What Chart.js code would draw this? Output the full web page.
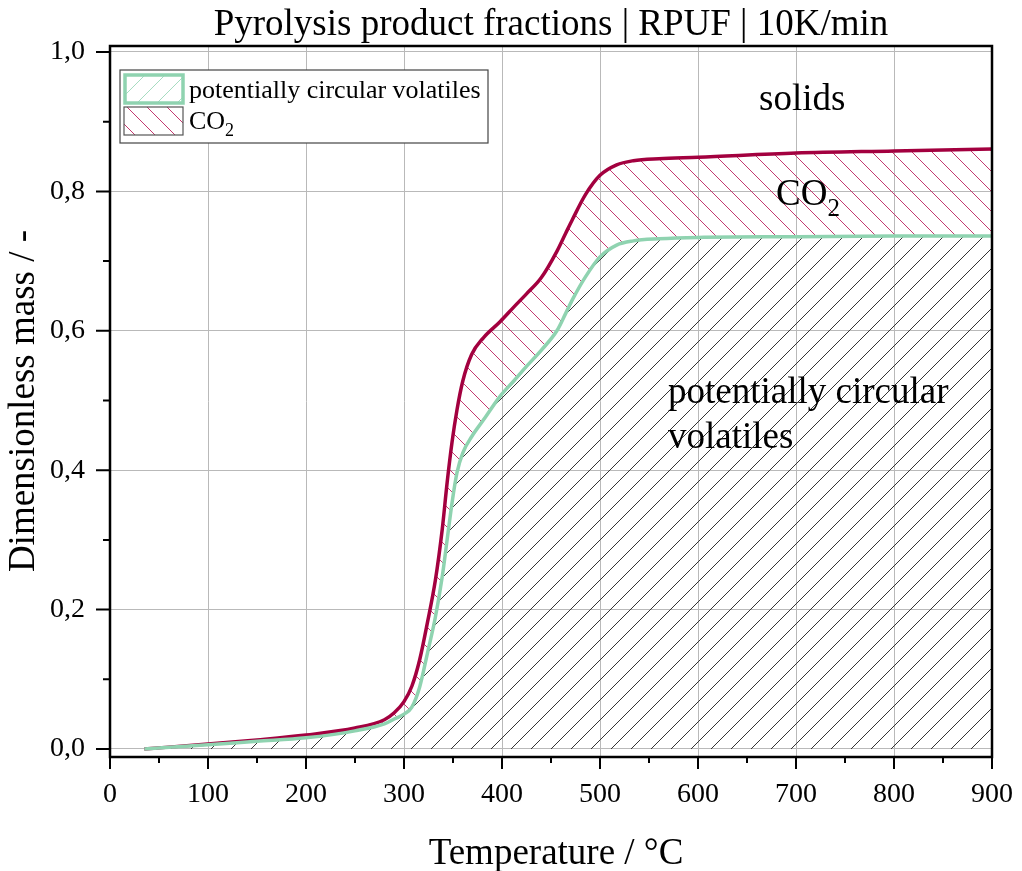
<!DOCTYPE html>
<html>
<head>
<meta charset="utf-8">
<script src="https://cdn.jsdelivr.net/npm/chart.js@4.4.1/dist/chart.umd.min.js"></script>
<style>
  html, body { margin: 0; padding: 0; background: #ffffff; }
  #wrap { width: 1022px; height: 871px; position: relative; }
</style>
</head>
<body>
<div id="wrap"><canvas id="c" width="1022" height="871"></canvas></div>
<script>
// ---------------- data ----------------
const temperatures = [35, 100, 150, 200, 250, 280, 290, 300, 308, 316, 324, 332, 339, 344, 349, 354, 360, 369, 381, 398, 412, 425, 440, 456, 465, 472, 485, 500, 517, 534, 560, 600, 700, 800, 900];
const volatiles    = [0.000, 0.006, 0.011, 0.016, 0.026, 0.036, 0.043, 0.050, 0.060, 0.089, 0.138, 0.189, 0.247, 0.300, 0.353, 0.396, 0.425, 0.448, 0.472, 0.506, 0.528, 0.549, 0.572, 0.600, 0.625, 0.645, 0.677, 0.706, 0.723, 0.729, 0.732, 0.734, 0.735, 0.736, 0.736];
const volatilesPlusCO2 = [0.000, 0.007, 0.013, 0.020, 0.030, 0.042, 0.052, 0.068, 0.090, 0.128, 0.182, 0.242, 0.315, 0.382, 0.440, 0.486, 0.528, 0.566, 0.590, 0.613, 0.634, 0.653, 0.676, 0.714, 0.740, 0.760, 0.795, 0.823, 0.838, 0.844, 0.847, 0.849, 0.855, 0.858, 0.861];
const xTickValues = [0, 100, 200, 300, 400, 500, 600, 700, 800, 900];
const xMinorTickValues = [50, 150, 250, 350, 450, 550, 650, 750, 850];
const yTickValues = [0, 0.2, 0.4, 0.6, 0.8, 1.0];
const yMinorTickValues = [0.1, 0.3, 0.5, 0.7, 0.9];
const seriesLabels = ['potentially circular volatiles', 'CO'];
const titleText = 'Pyrolysis product fractions | RPUF | 10K/min';
const xTitle = 'Temperature / °C';
const yTitle = 'Dimensionless mass / -';

// ---------------- styles ----------------
const SERIF = '"Liberation Serif", "Times New Roman", serif';
const RED = '#a3003f';
const GREEN = '#8fd3b0';

function hatch(color, forward, size, lw) {
  const cv = document.createElement('canvas');
  cv.width = size; cv.height = size;
  const g = cv.getContext('2d');
  g.strokeStyle = color; g.lineWidth = lw;
  g.beginPath();
  if (forward) {
    g.moveTo(-1, size + 1); g.lineTo(size + 1, -1);
    g.moveTo(-1, 1); g.lineTo(1, -1);
    g.moveTo(size - 1, size + 1); g.lineTo(size + 1, size - 1);
  } else {
    g.moveTo(-1, -1); g.lineTo(size + 1, size + 1);
    g.moveTo(size - 1, -1); g.lineTo(size + 1, 1);
    g.moveTo(-1, size - 1); g.lineTo(1, size + 1);
  }
  g.stroke();
  return g.createPattern(cv, 'repeat');
}
const blackHatch = hatch('#333333', true, 20, 1);
const redHatch = hatch('#c4396f', false, 20, 1);
const legendGreenHatch = hatch('#a6dcc1', true, 20, 1);

const toPoints = (vals) => temperatures.map((t, i) => ({ x: t, y: vals[i] }));

const decorations = {
  id: 'decorations',
  beforeDraw(chart) {
    const { ctx, width, height } = chart;
    ctx.save();
    ctx.fillStyle = '#ffffff';
    ctx.fillRect(0, 0, width, height);
    ctx.restore();
  },
  afterDraw(chart) {
    const { ctx, chartArea: a, scales } = chart;
    const xs = scales.x, ys = scales.y;
    ctx.save();
    // frame
    ctx.strokeStyle = '#000';
    ctx.lineWidth = 2.5;
    ctx.strokeRect(a.left, a.top, a.right - a.left, a.bottom - a.top);
    // tick marks
    ctx.lineWidth = 2;
    ctx.beginPath();
    xTickValues.forEach(v => { const p = xs.getPixelForValue(v); ctx.moveTo(p, a.bottom); ctx.lineTo(p, a.bottom + 12); });
    xMinorTickValues.forEach(v => { const p = xs.getPixelForValue(v); ctx.moveTo(p, a.bottom); ctx.lineTo(p, a.bottom + 6); });
    yTickValues.forEach(v => { const p = ys.getPixelForValue(v); ctx.moveTo(a.left, p); ctx.lineTo(a.left - 14, p); });
    yMinorTickValues.forEach(v => { const p = ys.getPixelForValue(v); ctx.moveTo(a.left, p); ctx.lineTo(a.left - 7, p); });
    ctx.stroke();

    // titles
    ctx.fillStyle = '#000';
    ctx.textAlign = 'center';
    ctx.textBaseline = 'alphabetic';
    ctx.font = '37px ' + SERIF;
    ctx.fillText(titleText, 551, 35);
    ctx.fillText(xTitle, 556, 864);
    ctx.save();
    ctx.translate(34, 401);
    ctx.rotate(-Math.PI / 2);
    ctx.fillText(yTitle, 0, 0);
    ctx.restore();

    // in-plot annotations
    ctx.font = '37px ' + SERIF;
    ctx.textAlign = 'left';
    ctx.fillText('solids', 759, 110);
    ctx.fillText('CO', 776, 205);
    const coW = ctx.measureText('CO').width;
    ctx.font = '25px ' + SERIF;
    ctx.fillText('2', 776 + coW, 216);
    ctx.font = '37px ' + SERIF;
    ctx.fillText('potentially circular', 668, 403);
    ctx.fillText('volatiles', 668, 448);

    // legend
    const L = { x: 120, y: 70, w: 368, h: 73 };
    ctx.fillStyle = '#fff';
    ctx.fillRect(L.x, L.y, L.w, L.h);
    ctx.strokeStyle = '#444';
    ctx.lineWidth = 1.2;
    ctx.strokeRect(L.x, L.y, L.w, L.h);
    // green swatch
    ctx.fillStyle = legendGreenHatch;
    ctx.fillRect(125, 75, 58, 28);
    ctx.strokeStyle = GREEN;
    ctx.lineWidth = 3.5;
    ctx.strokeRect(125, 75, 58, 28);
    // red swatch
    ctx.fillStyle = redHatch;
    ctx.fillRect(124, 107, 59, 28);
    ctx.strokeStyle = '#555';
    ctx.lineWidth = 1.2;
    ctx.strokeRect(124, 107, 59, 28);
    ctx.fillStyle = '#000';
    ctx.font = '26px ' + SERIF;
    ctx.fillText(seriesLabels[0], 189, 98);
    ctx.fillText(seriesLabels[1], 189, 129);
    const co2W = ctx.measureText(seriesLabels[1]).width;
    ctx.font = '18px ' + SERIF;
    ctx.fillText('2', 189 + co2W, 136);
    ctx.restore();
  }
};

new Chart(document.getElementById('c'), {
  type: 'line',
  data: {
    datasets: [
      {
        label: seriesLabels[0],
        data: toPoints(volatiles),
        borderColor: GREEN,
        borderWidth: 3.5,
        backgroundColor: blackHatch,
        fill: 'origin',
        pointRadius: 0,
        cubicInterpolationMode: 'monotone'
      },
      {
        label: seriesLabels[1] + '2',
        data: toPoints(volatilesPlusCO2),
        borderColor: RED,
        borderWidth: 3.5,
        backgroundColor: redHatch,
        fill: '-1',
        pointRadius: 0,
        cubicInterpolationMode: 'monotone'
      }
    ]
  },
  plugins: [decorations],
  options: {
    responsive: false,
    animation: false,
    events: [],
    layout: { padding: { top: 46, right: 29.5, left: 0, bottom: 0 } },
    plugins: {
      legend: { display: false },
      tooltip: { enabled: false },
      filler: { drawTime: 'beforeDatasetsDraw', propagate: false }
    },
    scales: {
      x: {
        type: 'linear',
        min: 0, max: 900,
        afterBuildTicks: (s) => { s.ticks = xTickValues.map(v => ({ value: v })); },
        afterFit: (s) => { s.height = 114; },
        border: { display: false },
        grid: { color: '#b9b9b9', lineWidth: 1, tickLength: 12, tickColor: 'rgba(0,0,0,0)' },
        ticks: {
          padding: 9,
          maxRotation: 0,
          autoSkip: false,
          color: '#000',
          font: { family: SERIF, size: 28 },
          callback: (v) => String(v)
        }
      },
      y: {
        type: 'linear',
        min: -0.0115, max: 1.0086,
        afterBuildTicks: (s) => { s.ticks = yTickValues.map(v => ({ value: v })); },
        afterFit: (s) => { s.width = 110; },
        border: { display: false },
        grid: { color: '#b9b9b9', lineWidth: 1, tickLength: 14, tickColor: 'rgba(0,0,0,0)' },
        ticks: {
          padding: 11,
          autoSkip: false,
          color: '#000',
          font: { family: SERIF, size: 28 },
          callback: (v) => Number(v).toFixed(1).replace('.', ',')
        }
      }
    }
  }
});
</script>
</body>
</html>
